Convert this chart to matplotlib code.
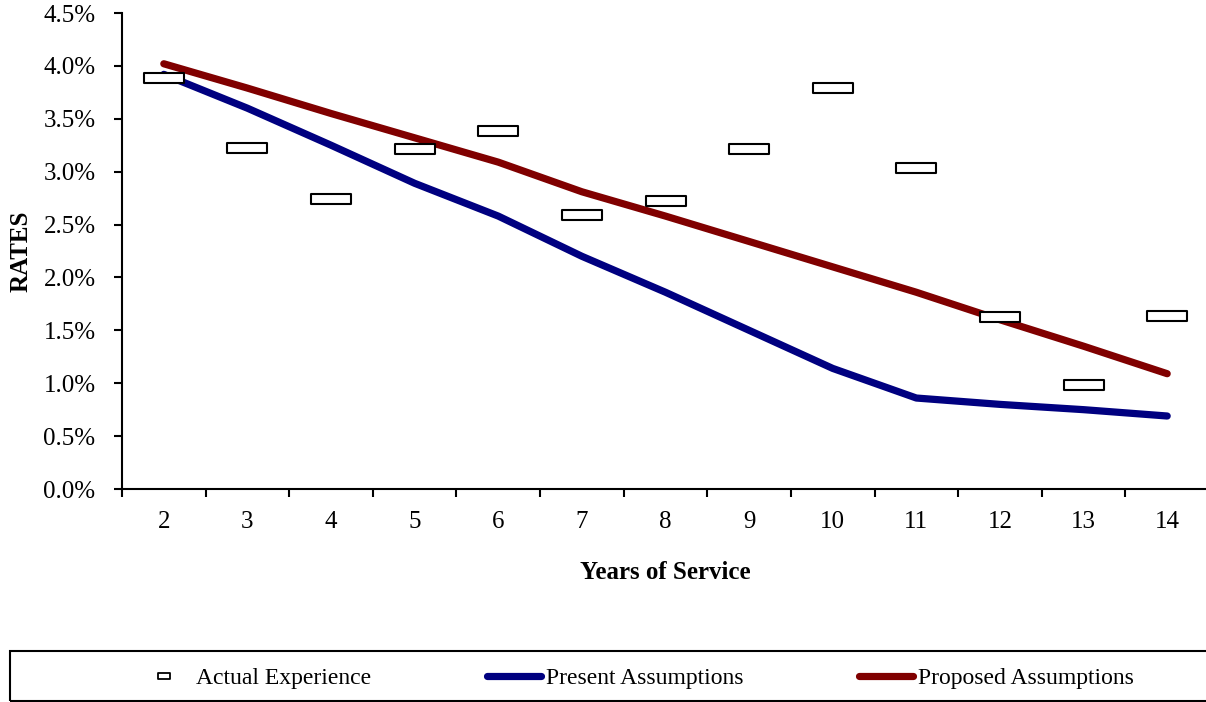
import matplotlib.pyplot as plt
import numpy as np
from matplotlib.path import Path
from matplotlib.lines import Line2D
from matplotlib.patches import Rectangle
from matplotlib.ticker import FuncFormatter, FixedLocator

years = [2, 3, 4, 5, 6, 7, 8, 9, 10, 11, 12, 13, 14]
actual = [3.89, 3.22, 2.74, 3.21, 3.38, 2.59, 2.72, 3.21, 3.79, 3.03, 1.63, 0.98, 1.64]
present = [3.92, 3.60, 3.25, 2.89, 2.58, 2.20, 1.86, 1.50, 1.14, 0.86, 0.80, 0.75, 0.69]
proposed = [4.02, 3.79, 3.55, 3.32, 3.09, 2.81, 2.58, 2.34, 2.10, 1.86, 1.60, 1.35, 1.09]


def box(w, h):
    # flat rectangle marker like the spreadsheet "dash" marker
    return Path([(-w, -h), (w, -h), (w, h), (-w, h), (-w, -h)],
                [Path.MOVETO, Path.LINETO, Path.LINETO, Path.LINETO, Path.CLOSEPOLY])


def main():
    plt.rcParams['font.family'] = ['Liberation Serif', 'DejaVu Serif']
    fig = plt.figure(figsize=(12.06, 7.02), dpi=100)
    ax = fig.add_axes([122 / 1206, 1 - 489 / 702, 1087 / 1206, 476 / 702])

    x = np.arange(len(years))
    ax.plot(x, present, color='#000080', lw=5.2, solid_capstyle='round', zorder=2)
    ax.plot(x, proposed, color='#800000', lw=5.2, solid_capstyle='round', zorder=2)
    ax.plot(x, actual, ls='none', marker=box(2.2, 0.5), markersize=29, mfc='white',
            mec='black', mew=1.5, zorder=3)

    ax.set_xlim(-0.5, len(years) - 0.5)
    ax.set_ylim(0, 4.5)
    ax.set_yticks(np.arange(0, 4.51, 0.5))
    ax.yaxis.set_major_formatter(FuncFormatter(lambda v, p: '%.1f%%' % v))
    ax.set_xticks(x)
    ax.set_xticklabels([str(y) for y in years])
    ax.xaxis.set_minor_locator(FixedLocator(np.arange(-0.5, len(years), 1.0)))
    ax.tick_params(axis='x', which='major', length=0, pad=16, labelsize=18)
    ax.tick_params(axis='x', which='minor', length=6, width=1.5, direction='out')
    ax.tick_params(axis='y', length=6, width=1.5, labelsize=18, pad=13)
    for s in ['top', 'right']:
        ax.spines[s].set_visible(False)
    for s in ['left', 'bottom']:
        ax.spines[s].set_linewidth(1.5)

    ax.set_xlabel('Years of Service', fontsize=18, fontweight='bold', labelpad=20)
    ax.set_ylabel('RATES', fontsize=18, fontweight='bold', labelpad=8)

    # legend box
    fig.patches.append(Rectangle((10 / 1206, 1 / 702), 1.2, 50 / 702, transform=fig.transFigure,
                                 fill=False, edgecolor='black', lw=1.5))
    handles = [
        Line2D([], [], ls='none', marker=box(1.0, 0.45), markersize=9, mfc='white', mec='black', mew=1.3),
        Line2D([], [], color='#000080', lw=5.2, solid_capstyle='round'),
        Line2D([], [], color='#800000', lw=5.2, solid_capstyle='round'),
    ]
    fig.legend(handles, ['Actual Experience', 'Present Assumptions', 'Proposed Assumptions'],
               loc='center left', bbox_to_anchor=(137 / 1206, 1 - 678 / 702),
               ncol=3, fontsize=17, frameon=False, borderaxespad=0, borderpad=0,
               handlelength=2.3, handletextpad=0.2, columnspacing=4.9)

    fig.savefig('out.png', dpi=100)


if __name__ == "__main__":
    main()
